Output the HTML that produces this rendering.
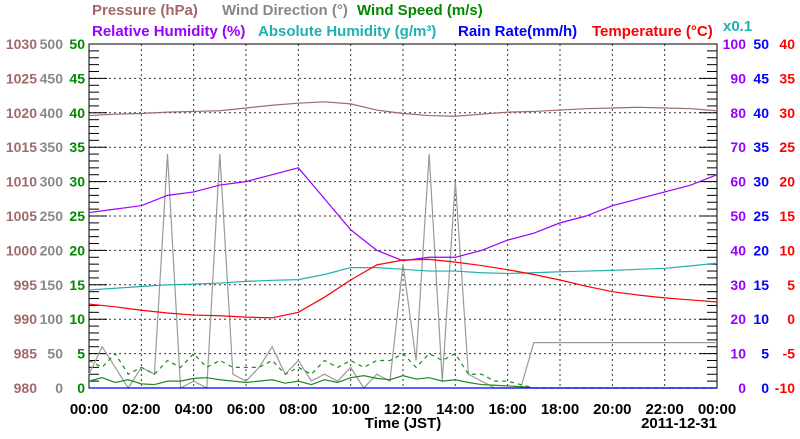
<!DOCTYPE html>
<html><head><meta charset="utf-8"><style>
body{margin:0;background:#fff;}
svg text{font-family:"Liberation Sans",sans-serif;font-weight:bold;}
</style></head><body>
<svg id="c" width="800" height="434" xmlns="http://www.w3.org/2000/svg">
<g font-size="15">
<text x="92" y="15" fill="#a06a6a">Pressure (hPa)</text>
<text x="222" y="15" fill="#888">Wind Direction (°)</text>
<text x="357" y="15" fill="#008800">Wind Speed (m/s)</text>
<text x="92" y="36" fill="#9a00ff">Relative Humidity (%)</text>
<text x="258" y="36" fill="#20b0b0">Absolute Humidity (g/m³)</text>
<text x="458" y="36" fill="#0000ff">Rain Rate(mm/h)</text>
<text x="592" y="36" fill="#ff0000">Temperature (°C)</text>
<text x="723" y="31" fill="#20b0b0">x0.1</text>
</g>
<g id="grid"></g><g id="axes"></g><g id="series"></g>
<text x="403" y="428" text-anchor="middle" font-size="15">Time (JST)</text>
<text x="717" y="428" text-anchor="end" font-size="15">2011-12-31</text>
</svg>
<script>
const hours=[0,1,2,3,4,5,6,7,8,9,10,11,12,13,14,15,16,17,18,19,20,21,22,23,24];
const pressure=[1019.6,1019.8,1019.9,1020.1,1020.2,1020.3,1020.7,1021.1,1021.4,1021.6,1021.3,1020.4,1019.9,1019.6,1019.5,1019.8,1020.1,1020.2,1020.4,1020.6,1020.7,1020.8,1020.7,1020.6,1020.3];
const rh=[51,52,53,56,57,59,60,62,64,55,46,40,37,38,38,40,43,45,48,50,53,55,57,59,62];
const absHum=[28.5,29,29.5,30,30.2,30.5,31,31.3,31.5,33,35,35,34.5,34,34,33.5,33.3,33.5,33.8,34,34.2,34.5,34.8,35.5,36.3];
const temp=[2.2,1.8,1.3,0.9,0.6,0.5,0.3,0.2,1,3.2,5.7,7.9,8.6,8.7,8.3,7.8,7.2,6.5,5.7,4.8,4,3.5,3.1,2.8,2.5];
const rain=[0,0,0,0,0,0,0,0,0,0,0,0,0,0,0,0,0,0,0,0,0,0,0,0,0];
const halfHours=[0,0.5,1,1.5,2,2.5,3,3.5,4,4.5,5,5.5,6,6.5,7,7.5,8,8.5,9,9.5,10,10.5,11,11.5,12,12.5,13,13.5,14,14.5,15,15.5,16,16.5,17,17.5,18,18.5,19,19.5,20,20.5,21,21.5,22,22.5,23,23.5,24];
const windDir=[20,60,30,0,30,20,340,0,10,0,340,20,10,30,60,20,40,10,20,10,30,0,20,10,180,40,340,10,300,20,10,0,0,0,66,66,66,66,66,66,66,66,66,66,66,66,66,66,66];
const windSpeed=[1,1.5,0.8,1.2,0.6,0.5,1,1,1.4,1.5,1.2,1,0.8,1,1.2,0.7,1,0.5,1.2,0.8,1.5,1.8,1.4,1.2,1.8,1.3,1.5,1,1.2,0.8,0.5,0.4,0.3,0.2,0,0,0,0,0,0,0,0,0,0,0,0,0,0,0];
const windGust=[4,3,5,2,3,2,4,3,5,3,4,3,3,3,4,2,3,2,4,3,4,3,4,4,5,3,5,4,5,2,2,1,1,0.5,0,0,0,0,0,0,0,0,0,0,0,0,0,0,0];
const xTicks=["00:00","02:00","04:00","06:00","08:00","10:00","12:00","14:00","16:00","18:00","20:00","22:00","00:00"];
const pTicks=[980,985,990,995,1000,1005,1010,1015,1020,1025,1030];
const dTicks=[0,50,100,150,200,250,300,350,400,450,500];
const sTicks=[0,5,10,15,20,25,30,35,40,45,50];
const rhTicks=[0,10,20,30,40,50,60,70,80,90,100];
const rTicks=[0,5,10,15,20,25,30,35,40,45,50];
const tTicks=[-10,-5,0,5,10,15,20,25,30,35,40];

const L=89,R=717,T=44,B=388,NS="http://www.w3.org/2000/svg";
const X=h=>L+(R-L)*h/24;
const Y=(v,lo,hi)=>B-(B-T)*(v-lo)/(hi-lo);
function el(p,tag,a){const e=document.createElementNS(NS,tag);for(const k in a)e.setAttribute(k,a[k]);p.appendChild(e);return e;}
const grid=document.getElementById('grid'),axes=document.getElementById('axes'),ser=document.getElementById('series');
for(let i=1;i<12;i++){const e=el(grid,'line',{x1:X(i*2),x2:X(i*2),y1:T,y2:B,stroke:'#333','stroke-dasharray':'2,3','stroke-width':1});

}
for(let i=1;i<10;i++){const y=Y(i,0,10);const e=el(grid,'line',{x1:L,x2:R,y1:y,y2:y,stroke:'#333','stroke-dasharray':'2,3','stroke-width':1});

}
const frame=el(axes,'rect',{x:L,y:T,width:R-L,height:B-T,fill:'none',stroke:'#000','stroke-width':1});


for(let i=0;i<=50;i++){const y=Y(i,0,50);const len=i%5==0?18:10;
el(axes,'line',{x1:L,x2:L+len,y1:y,y2:y,stroke:'#000'});el(axes,'line',{x1:R-len,x2:R,y1:y,y2:y,stroke:'#000'});}
function labels(arr,x,anchor,color,name){arr.forEach((v,i)=>{const t=el(axes,'text',{x:x,y:Y(i,0,10)+5,'text-anchor':anchor,fill:color,'font-size':14});t.textContent=v;

});}
labels(pTicks,37,'end','#a06a6a','pressure-tick');
labels(dTicks,63,'end','#888','wind-direction-tick');
labels(sTicks,85,'end','#008800','wind-speed-tick');
labels(rhTicks,746,'end','#9a00ff','humidity-tick');
labels(rTicks,769,'end','#0000ff','rain-tick');
labels(tTicks,795,'end','#ff0000','temperature-tick');
xTicks.forEach((t,i)=>{const e=el(axes,'text',{x:X(i*2),y:414,'text-anchor':'middle','font-size':15,fill:'#000'});e.textContent=t;

});
function line(xs,vs,lo,hi,color,name,dash,step){let d='';xs.forEach((h,i)=>{const x=X(h),y=Y(vs[i],lo,hi);
if(i==0)d+='M'+x+','+y;else if(step)d+='H'+x+'V'+y;else d+='L'+x+','+y;});
const p=el(ser,'path',{d:d,fill:'none',stroke:color,'stroke-width':1.2});if(dash)p.setAttribute('stroke-dasharray',dash);

}
line(halfHours,windDir,0,500,'#999','wind-direction-line');
line(halfHours,windGust,0,50,'#228822','wind-gust-line','4,4');
line(halfHours,windSpeed,0,50,'#228822','wind-speed-line');
line(hours,rain,0,50,'#0000ff','rain-rate-line');
line(hours,pressure,980,1030,'#a06a6a','pressure-line');
line(hours,absHum,0,100,'#20b0b0','absolute-humidity-line');
line(hours,rh,0,100,'#9a00ff','relative-humidity-line');
line(hours,temp,-10,40,'#ff0000','temperature-line');
</script>
</body></html>
